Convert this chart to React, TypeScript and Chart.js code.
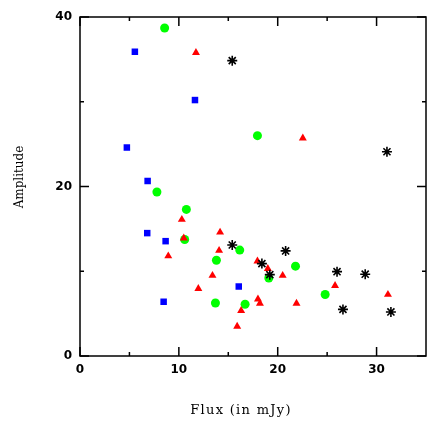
import React, { useEffect, useRef } from 'react';
import { Chart, registerables } from 'chart.js';

Chart.register(...registerables);

// Green circles
const greenX = [8.56, 17.95, 7.78, 10.76, 10.59, 13.8, 16.16, 13.7, 16.7, 19.1, 21.8, 24.8];
const greenY = [38.7, 26.0, 19.35, 17.3, 13.75, 11.3, 12.5, 6.25, 6.1, 9.2, 10.6, 7.25];

// Blue squares
const blueX = [5.55, 11.63, 4.74, 6.84, 6.8, 8.66, 8.46, 16.06];
const blueY = [35.9, 30.2, 24.6, 20.65, 14.5, 13.55, 6.4, 8.2];

// Red triangles
const redX = [11.73, 22.54, 10.3, 14.17, 10.5, 14.07, 8.93, 13.4, 11.97, 16.3, 15.9, 17.95, 19.0, 20.5, 18.0, 18.2, 21.9, 25.8, 31.15];
const redY = [35.8, 25.7, 16.1, 14.6, 13.9, 12.45, 11.8, 9.5, 7.95, 5.35, 3.5, 11.2, 10.3, 9.5, 6.7, 6.2, 6.2, 8.3, 7.25];

// Black asterisks
const blackX = [15.4, 31.05, 15.4, 20.8, 18.4, 19.2, 26.0, 28.85, 26.6, 31.45];
const blackY = [34.85, 24.1, 13.1, 12.4, 10.9, 9.6, 9.95, 9.65, 5.5, 5.2];

const xMajorTicks = [0, 10, 20, 30];
const xTickLabels = ['0', '10', '20', '30'];
const xMinorTicks = [5, 15, 25];
const yMajorTicks = [0, 20, 40];
const yTickLabels = ['0', '20', '40'];
const yMinorTicks = [10, 30];

const xTitle = 'Flux (in mJy)';
const yTitle = 'Amplitude';

const toPoints = (xs: number[], ys: number[]) => xs.map((x, i) => ({ x, y: ys[i] }));

const framePlugin = {
  id: 'pgframe',
  afterDraw(chart: any) {
    const { ctx, chartArea, scales } = chart;
    const { left, right, top, bottom } = chartArea;
    const xs = scales.x;
    const ys = scales.y;
    ctx.save();
    ctx.strokeStyle = '#000';
    ctx.lineWidth = 1.5;
    ctx.strokeRect(left, top, right - left, bottom - top);
    ctx.beginPath();
    const major = 9;
    const minor = 4;
    xMajorTicks.forEach((v) => {
      const px = xs.getPixelForValue(v);
      ctx.moveTo(px, bottom); ctx.lineTo(px, bottom - major);
      ctx.moveTo(px, top); ctx.lineTo(px, top + major);
    });
    xMinorTicks.forEach((v) => {
      const px = xs.getPixelForValue(v);
      ctx.moveTo(px, bottom); ctx.lineTo(px, bottom - minor);
      ctx.moveTo(px, top); ctx.lineTo(px, top + minor);
    });
    yMajorTicks.forEach((v) => {
      const py = ys.getPixelForValue(v);
      ctx.moveTo(left, py); ctx.lineTo(left + major, py);
      ctx.moveTo(right, py); ctx.lineTo(right - major, py);
    });
    yMinorTicks.forEach((v) => {
      const py = ys.getPixelForValue(v);
      ctx.moveTo(left, py); ctx.lineTo(left + minor, py);
      ctx.moveTo(right, py); ctx.lineTo(right - minor, py);
    });
    ctx.stroke();

    ctx.fillStyle = '#000';
    ctx.font = 'bold 12px "DejaVu Sans"';
    ctx.textAlign = 'center';
    ctx.textBaseline = 'middle';
    xMajorTicks.forEach((v, i) => {
      ctx.fillText(xTickLabels[i], xs.getPixelForValue(v), bottom + 14);
    });
    ctx.textAlign = 'right';
    yMajorTicks.forEach((v, i) => {
      ctx.fillText(yTickLabels[i], left - 8, ys.getPixelForValue(v));
    });

    ctx.font = '13px "DejaVu Serif"';
    ctx.textAlign = 'center';
    (ctx as any).letterSpacing = '1.3px';
    ctx.fillText(xTitle, 241, bottom + 55);
    (ctx as any).letterSpacing = '0px';
    ctx.font = '12px "DejaVu Serif"';
    ctx.save();
    ctx.translate(20, 177);
    ctx.rotate(-Math.PI / 2);
    ctx.fillText(yTitle, 0, 0);
    ctx.restore();
    ctx.restore();
  },
};

export default function App() {
  const ref = useRef<HTMLCanvasElement>(null);
  useEffect(() => {
    document.body.style.margin = '0';
    const canvas = ref.current;
    if (!canvas) return;
    const chart = new Chart(canvas, {
      type: 'scatter',
      data: {
        datasets: [
          {
            label: 'black',
            data: toPoints(blackX, blackY),
            pointStyle: 'star',
            pointRadius: 5,
            borderColor: '#000',
            backgroundColor: '#000',
            pointBorderWidth: 1.6,
          },
          {
            label: 'red',
            data: toPoints(redX, redY),
            pointStyle: 'triangle',
            pointRadius: 4.6,
            borderColor: '#ff0000',
            backgroundColor: '#ff0000',
            pointBorderWidth: 0,
          },
          {
            label: 'blue',
            data: toPoints(blueX, blueY),
            pointStyle: 'rect',
            pointRadius: 4.6,
            borderColor: '#0000ff',
            backgroundColor: '#0000ff',
            pointBorderWidth: 0,
          },
          {
            label: 'green',
            data: toPoints(greenX, greenY),
            pointStyle: 'circle',
            pointRadius: 4.5,
            borderColor: '#00ff00',
            backgroundColor: '#00ff00',
            pointBorderWidth: 0,
          },
        ],
      },
      options: {
        animation: false,
        responsive: true,
        maintainAspectRatio: false,
        layout: { padding: { left: 80, right: 10, top: 17, bottom: 80 } },
        plugins: { legend: { display: false }, tooltip: { enabled: false } },
        scales: {
          x: { type: 'linear', min: 0, max: 35, display: false },
          y: { type: 'linear', min: 0, max: 40, display: false },
        },
      },
      plugins: [framePlugin],
    });
    return () => chart.destroy();
  }, []);
  return (
    <div style={{ width: 436, height: 436, position: 'relative', background: '#fff' }}>
      <canvas ref={ref} />
    </div>
  );
}
